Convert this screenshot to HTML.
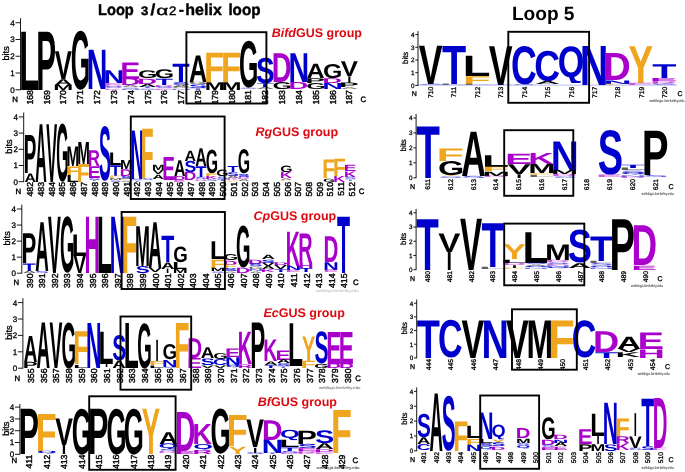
<!DOCTYPE html>
<html><head><meta charset="utf-8"><title>Loop sequence logos</title>
<style>
html,body{margin:0;padding:0;background:#fff}
svg{display:block;filter:blur(0.35px)}
text{font-family:"Liberation Sans",Arial,Helvetica,sans-serif}
text{font-weight:bold;font-size:100px;text-rendering:geometricPrecision}
.k{fill:#000}.b{fill:#0000cc}.p{fill:#aa00cc}.o{fill:#f0a51e}
.ax{stroke:#000;stroke-width:0.9;fill:none}
text.yt,text.yts{font-size:8px;text-anchor:end;font-weight:normal;stroke:#000;stroke-width:.3px}
text.yts{font-size:6.3px;stroke-width:.25px}
text.bits,text.bitss{font-size:9.2px;text-anchor:middle;font-weight:normal;stroke:#000;stroke-width:.3px}
text.bitss{font-size:7.9px;stroke-width:.25px}
text.xt,text.xts{font-size:8.7px;text-anchor:end;font-weight:normal;stroke:#000;stroke-width:.4px}
text.xts{font-size:6.75px;stroke-width:.3px}
text.nc,text.ncs{font-size:7.8px;text-anchor:middle;font-weight:normal;stroke:#000;stroke-width:.4px}
text.ncs{font-size:7px;stroke-width:.3px}
text.wl{font-size:4px;text-anchor:start;font-weight:normal;fill:#111}
text.lab{font-size:12.5px;fill:#dc0a10}
text.t1{font-size:15.8px;stroke:#000;stroke-width:.4px}
text.t2{font-size:19.1px}
.box{fill:none;stroke:#000;stroke-width:1.9}
</style></head><body>
<svg width="685" height="472" viewBox="0 0 685 472">
<rect width="685" height="472" fill="#fff"/>
<defs><clipPath id="q0"><rect x="225.54" y="363.92" width="14.64" height="3.62"/></clipPath><clipPath id="q1"><rect x="36.97" y="450.11" width="19.37" height="3.71"/></clipPath><clipPath id="q2"><rect x="158.56" y="442.56" width="19.37" height="6.66"/></clipPath><clipPath id="q3"><rect x="193.30" y="442.56" width="19.37" height="7.02"/></clipPath><clipPath id="q4"><rect x="280.15" y="429.23" width="19.37" height="10.91"/></clipPath><clipPath id="q5"><rect x="558.16" y="45.02" width="25.36" height="37.89"/></clipPath><clipPath id="q6"><rect x="620.62" y="171.57" width="24.78" height="3.24"/></clipPath><clipPath id="q7"><rect x="524.30" y="264.86" width="23.72" height="2.42"/></clipPath><clipPath id="q8"><rect x="546.02" y="266.14" width="23.72" height="2.42"/></clipPath><clipPath id="q9"><rect x="589.46" y="264.43" width="23.72" height="2.71"/></clipPath><clipPath id="q10"><rect x="478.75" y="445.35" width="14.45" height="4.27"/></clipPath><clipPath id="q11"><rect x="491.20" y="423.37" width="14.45" height="16.00"/></clipPath><clipPath id="q12"><rect x="516.10" y="444.16" width="14.45" height="4.42"/></clipPath></defs>
<text class="t1" x="98" y="15.4" textLength="35.8" lengthAdjust="spacingAndGlyphs">Loop</text>
<text class="t1" x="141.1" y="15.4" textLength="7.3" lengthAdjust="spacingAndGlyphs" style="font-size:12.4px">3</text>
<text class="t1" x="150.4" y="15.4" textLength="4.8" lengthAdjust="spacingAndGlyphs">/</text>
<text class="t1" x="156.2" y="15.4" textLength="12" lengthAdjust="spacingAndGlyphs" style="font-size:13.5px;font-weight:normal">α</text>
<text class="t1" x="168.9" y="15.4" textLength="7.4" lengthAdjust="spacingAndGlyphs" style="font-size:12.4px;font-weight:normal">2</text>
<text class="t1" x="178.8" y="15.4" textLength="5.2" lengthAdjust="spacingAndGlyphs">-</text>
<text class="t1" x="185.3" y="15.4" textLength="36.5" lengthAdjust="spacingAndGlyphs">helix</text>
<text class="t1" x="228.4" y="15.4" textLength="32.1" lengthAdjust="spacingAndGlyphs">loop</text>
<text class="t2" x="511.9" y="20">Loop 5</text>
<text class="k" transform="matrix(0.3278 0 0 0.8483 19.11 89.80)">L</text>
<text class="k" transform="matrix(0.2972 0 0 0.8483 36.13 89.80)">P</text>
<text class="k" transform="matrix(0.2575 0 0 0.4046 54.76 78.73)">V</text>
<text class="k" transform="matrix(0.2507 0 0 0.0853 54.32 84.60)">A</text>
<text class="k" transform="matrix(0.2406 0 0 0.0756 53.33 89.80)">M</text>
<text class="k" transform="matrix(0.2493 0 0 0.8361 70.74 88.98)">G</text>
<text class="b" transform="matrix(0.2861 0 0 0.5704 86.67 89.30)">N</text>
<text class="b" transform="matrix(0.2861 0 0 0.1853 103.49 83.26)">N</text>
<text class="p" opacity="0.60" transform="matrix(0.2998 0 0 0.0293 103.39 85.27)">E</text>
<text class="p" opacity="0.58" transform="matrix(0.2743 0 0 0.0244 103.57 86.95)">D</text>
<text class="b" opacity="0.57" transform="matrix(0.2807 0 0 0.0213 104.59 88.44)">S</text>
<text class="p" opacity="0.55" transform="matrix(0.2604 0 0 0.0195 103.66 89.80)">K</text>
<text class="p" transform="matrix(0.2998 0 0 0.2389 120.21 78.56)">E</text>
<text class="p" transform="matrix(0.2743 0 0 0.0999 120.39 85.44)">D</text>
<text class="k" opacity="0.60" transform="matrix(0.2507 0 0 0.0293 121.60 87.45)">A</text>
<text class="b" opacity="0.55" transform="matrix(0.2807 0 0 0.0189 121.41 88.78)">S</text>
<text class="b" opacity="0.53" transform="matrix(0.2861 0 0 0.0146 120.31 89.80)">N</text>
<text class="k" transform="matrix(0.2493 0 0 0.1113 138.02 78.46)">G</text>
<text class="p" transform="matrix(0.2743 0 0 0.0780 137.21 83.93)">D</text>
<text class="k" transform="matrix(0.2507 0 0 0.0439 138.42 86.95)">A</text>
<text class="b" opacity="0.57" transform="matrix(0.2856 0 0 0.0219 138.72 88.46)">T</text>
<text class="b" opacity="0.55" transform="matrix(0.2807 0 0 0.0189 138.23 89.78)">S</text>
<text class="k" transform="matrix(0.2493 0 0 0.1255 154.84 78.44)">G</text>
<text class="b" transform="matrix(0.2856 0 0 0.0902 155.54 84.77)">T</text>
<text class="p" opacity="0.60" transform="matrix(0.2743 0 0 0.0293 154.03 86.78)">D</text>
<text class="b" opacity="0.58" transform="matrix(0.2807 0 0 0.0237 155.05 88.44)">S</text>
<text class="p" opacity="0.55" transform="matrix(0.2998 0 0 0.0195 153.85 89.80)">E</text>
<text class="b" transform="matrix(0.2856 0 0 0.2633 172.36 82.09)">T</text>
<text class="b" transform="matrix(0.2807 0 0 0.0379 171.87 84.73)">S</text>
<text class="k" opacity="0.62" transform="matrix(0.2507 0 0 0.0317 172.06 86.95)">A</text>
<text class="k" opacity="0.57" transform="matrix(0.2493 0 0 0.0213 171.66 88.44)">G</text>
<text class="b" opacity="0.55" transform="matrix(0.2861 0 0 0.0195 170.77 89.80)">N</text>
<text class="k" transform="matrix(0.2507 0 0 0.3851 188.88 82.09)">A</text>
<text class="k" opacity="0.63" transform="matrix(0.2493 0 0 0.0332 188.48 84.40)">G</text>
<text class="b" transform="matrix(0.2807 0 0 0.0521 188.69 88.07)">S</text>
<text class="b" opacity="0.58" transform="matrix(0.2856 0 0 0.0244 189.18 89.80)">T</text>
<text class="o" transform="matrix(0.3315 0 0 0.4266 204.10 82.09)">F</text>
<text class="k" transform="matrix(0.2406 0 0 0.1121 204.71 89.80)">M</text>
<text class="o" transform="matrix(0.3315 0 0 0.4266 220.92 82.09)">F</text>
<text class="k" transform="matrix(0.2406 0 0 0.1121 221.53 89.80)">M</text>
<text class="k" transform="matrix(0.2493 0 0 0.6632 238.94 87.14)">G</text>
<text class="b" opacity="0.55" transform="matrix(0.2807 0 0 0.0189 239.15 89.11)">S</text>
<text class="b" transform="matrix(0.2807 0 0 0.3624 255.97 82.74)">S</text>
<text class="b" transform="matrix(0.2856 0 0 0.0561 256.46 86.95)">T</text>
<text class="k" opacity="0.60" transform="matrix(0.2507 0 0 0.0293 256.16 88.96)">A</text>
<text class="p" transform="matrix(0.2743 0 0 0.4193 271.77 82.09)">D</text>
<text class="k" transform="matrix(0.2493 0 0 0.0995 272.58 89.03)">G</text>
<text class="b" transform="matrix(0.2861 0 0 0.4193 288.51 82.09)">N</text>
<text class="p" transform="matrix(0.2743 0 0 0.1024 288.59 89.13)">D</text>
<text class="k" transform="matrix(0.2507 0 0 0.2072 306.62 78.23)">A</text>
<text class="k" transform="matrix(0.2972 0 0 0.0707 305.25 83.09)">P</text>
<text class="k" transform="matrix(0.2493 0 0 0.0853 306.22 89.05)">G</text>
<text class="k" transform="matrix(0.2493 0 0 0.2013 323.04 78.03)">G</text>
<text class="p" transform="matrix(0.2743 0 0 0.0707 322.23 83.09)">D</text>
<text class="b" transform="matrix(0.2861 0 0 0.0878 322.15 89.13)">N</text>
<text class="k" transform="matrix(0.2575 0 0 0.2145 340.70 76.05)">V</text>
<text class="k" transform="matrix(0.1518 0 0 0.0975 347.18 82.76)">I</text>
<text class="k" transform="matrix(0.2972 0 0 0.0658 338.89 87.28)">P</text>
<text class="k" opacity="0.58" transform="matrix(0.2507 0 0 0.0244 340.26 88.96)">A</text>
<path class="ax" d="M20.50 18.19V90.20"/>
<text class="yt" x="14.70" y="92.70">0</text>
<text class="yt" x="14.70" y="75.93">1</text>
<text class="yt" x="14.70" y="59.16">2</text>
<text class="yt" x="14.70" y="42.39">3</text>
<text class="yt" x="14.70" y="25.62">4</text>
<path class="ax" d="M15.50 89.80H20.50M15.50 73.03H20.50M15.50 56.26H20.50M15.50 39.49H20.50M15.50 22.72H20.50"/>
<text class="bits" transform="translate(9.10 53.41) rotate(-90)">bits</text>
<text class="xt" transform="translate(32.76 90.10) rotate(-90)">168</text>
<text class="xt" transform="translate(49.58 90.10) rotate(-90)">169</text>
<text class="xt" transform="translate(66.40 90.10) rotate(-90)">170</text>
<text class="xt" transform="translate(83.22 90.10) rotate(-90)">171</text>
<text class="xt" transform="translate(100.04 90.10) rotate(-90)">172</text>
<text class="xt" transform="translate(116.86 90.10) rotate(-90)">173</text>
<text class="xt" transform="translate(133.68 90.10) rotate(-90)">174</text>
<text class="xt" transform="translate(150.50 90.10) rotate(-90)">175</text>
<text class="xt" transform="translate(167.32 90.10) rotate(-90)">176</text>
<text class="xt" transform="translate(184.14 90.10) rotate(-90)">177</text>
<text class="xt" transform="translate(200.96 90.10) rotate(-90)">178</text>
<text class="xt" transform="translate(217.78 90.10) rotate(-90)">179</text>
<text class="xt" transform="translate(234.60 90.10) rotate(-90)">180</text>
<text class="xt" transform="translate(251.42 90.10) rotate(-90)">181</text>
<text class="xt" transform="translate(268.24 90.10) rotate(-90)">182</text>
<text class="xt" transform="translate(285.06 90.10) rotate(-90)">183</text>
<text class="xt" transform="translate(301.88 90.10) rotate(-90)">184</text>
<text class="xt" transform="translate(318.70 90.10) rotate(-90)">185</text>
<text class="xt" transform="translate(335.52 90.10) rotate(-90)">186</text>
<text class="xt" transform="translate(352.34 90.10) rotate(-90)">187</text>
<text class="nc" x="15.00" y="102.40">N</text>
<text class="nc" x="363.20" y="102.40">C</text>
<rect class="box" x="186.40" y="32.20" width="80.00" height="71.30"/>
<text class="lab" x="271.70" y="36.80"><tspan font-style="italic">Bifd</tspan>GUS group</text>
<text class="k" transform="matrix(0.1885 0 0 0.5534 23.64 173.28)">P</text>
<text class="k" transform="matrix(0.1590 0 0 0.1224 24.50 181.70)">A</text>
<text class="k" transform="matrix(0.1590 0 0 0.8406 35.17 181.70)">A</text>
<text class="k" transform="matrix(0.1633 0 0 0.8406 46.13 181.70)">V</text>
<text class="k" transform="matrix(0.1581 0 0 0.8237 56.26 180.90)">G</text>
<text class="k" transform="matrix(0.1526 0 0 0.2849 66.56 166.15)">M</text>
<text class="o" transform="matrix(0.2103 0 0 0.1224 66.17 174.57)">F</text>
<text class="k" transform="matrix(0.2079 0 0 0.1036 66.19 181.70)">L</text>
<text class="k" transform="matrix(0.1526 0 0 0.3179 77.23 163.72)">M</text>
<text class="o" transform="matrix(0.2103 0 0 0.2614 76.84 181.70)">F</text>
<text class="p" transform="matrix(0.1681 0 0 0.2284 87.80 166.15)">R</text>
<text class="p" transform="matrix(0.1902 0 0 0.1719 87.65 177.97)">E</text>
<text class="b" opacity="0.59" transform="matrix(0.1781 0 0 0.0252 88.41 179.73)">S</text>
<text class="b" opacity="0.55" transform="matrix(0.1812 0 0 0.0188 88.72 181.05)">T</text>
<text class="b" transform="matrix(0.1781 0 0 0.7734 99.08 179.65)">S</text>
<text class="k" transform="matrix(0.2079 0 0 0.1837 108.87 165.01)">L</text>
<text class="b" transform="matrix(0.1812 0 0 0.1554 110.06 175.71)">T</text>
<text class="o" opacity="0.64" transform="matrix(0.2103 0 0 0.0353 108.85 178.14)">F</text>
<text class="k" opacity="0.60" transform="matrix(0.1526 0 0 0.0283 109.24 180.08)">M</text>
<text class="b" opacity="0.57" transform="matrix(0.1781 0 0 0.0229 109.75 181.68)">S</text>
<text class="k" transform="matrix(0.1526 0 0 0.1295 119.91 169.39)">M</text>
<text class="p" transform="matrix(0.1740 0 0 0.0965 119.77 176.03)">D</text>
<text class="b" transform="matrix(0.1781 0 0 0.0412 120.42 178.91)">S</text>
<text class="o" opacity="0.56" transform="matrix(0.2103 0 0 0.0212 119.52 180.40)">F</text>
<text class="k" opacity="0.55" transform="matrix(0.1590 0 0 0.0188 120.53 181.70)">A</text>
<text class="b" transform="matrix(0.1815 0 0 0.7041 130.39 178.95)">N</text>
<text class="b" opacity="0.56" transform="matrix(0.1781 0 0 0.0206 131.09 180.38)">S</text>
<text class="b" opacity="0.55" transform="matrix(0.1812 0 0 0.0188 131.40 181.70)">T</text>
<text class="o" transform="matrix(0.2103 0 0 0.7158 140.86 178.30)">F</text>
<text class="b" opacity="0.59" transform="matrix(0.1781 0 0 0.0252 141.76 180.06)">S</text>
<text class="k" transform="matrix(0.1526 0 0 0.0777 151.92 170.36)">M</text>
<text class="k" transform="matrix(0.1633 0 0 0.0589 152.83 174.41)">V</text>
<text class="k" transform="matrix(0.1590 0 0 0.0636 152.54 178.78)">A</text>
<text class="p" transform="matrix(0.1902 0 0 0.3344 162.34 180.08)">E</text>
<text class="k" transform="matrix(0.1590 0 0 0.2308 173.88 175.71)">A</text>
<text class="p" transform="matrix(0.1740 0 0 0.0589 173.12 179.76)">D</text>
<text class="p" opacity="0.60" transform="matrix(0.1902 0 0 0.0283 173.01 181.70)">E</text>
<text class="k" transform="matrix(0.1590 0 0 0.1507 184.55 160.80)">A</text>
<text class="b" transform="matrix(0.1781 0 0 0.1602 184.44 171.99)">S</text>
<text class="p" transform="matrix(0.1740 0 0 0.1201 183.79 180.40)">D</text>
<text class="k" transform="matrix(0.1590 0 0 0.2567 195.22 166.15)">A</text>
<text class="b" transform="matrix(0.1812 0 0 0.1578 195.42 177.00)">T</text>
<text class="b" opacity="0.64" transform="matrix(0.1781 0 0 0.0343 195.11 179.40)">S</text>
<text class="p" opacity="0.57" transform="matrix(0.1740 0 0 0.0235 194.46 181.05)">D</text>
<text class="k" transform="matrix(0.1581 0 0 0.3364 205.64 172.95)">G</text>
<text class="o" transform="matrix(0.2103 0 0 0.0400 204.88 176.03)">F</text>
<text class="p" transform="matrix(0.1652 0 0 0.0447 205.19 179.11)">K</text>
<text class="b" opacity="0.60" transform="matrix(0.1781 0 0 0.0275 205.78 181.03)">S</text>
<text class="k" transform="matrix(0.1581 0 0 0.0915 216.31 176.26)">G</text>
<text class="b" opacity="0.65" transform="matrix(0.1781 0 0 0.0366 216.45 178.91)">S</text>
<text class="b" opacity="0.60" transform="matrix(0.1812 0 0 0.0283 216.76 180.89)">T</text>
<text class="b" transform="matrix(0.1812 0 0 0.0871 227.43 172.14)">T</text>
<text class="b" transform="matrix(0.1781 0 0 0.0549 227.12 175.98)">S</text>
<text class="k" opacity="0.64" transform="matrix(0.1590 0 0 0.0353 227.23 178.46)">A</text>
<text class="p" opacity="0.60" transform="matrix(0.1652 0 0 0.0283 226.53 180.40)">K</text>
<text class="o" opacity="0.55" transform="matrix(0.2103 0 0 0.0188 226.22 181.70)">F</text>
<text class="k" transform="matrix(0.1581 0 0 0.3432 237.65 173.43)">G</text>
<text class="b" transform="matrix(0.1781 0 0 0.0435 237.79 176.80)">S</text>
<text class="p" opacity="0.61" transform="matrix(0.1740 0 0 0.0306 237.14 178.95)">D</text>
<text class="k" opacity="0.60" transform="matrix(0.1590 0 0 0.0283 237.90 180.89)">A</text>
<text class="k" transform="matrix(0.1581 0 0 0.0915 280.33 172.05)">G</text>
<text class="p" transform="matrix(0.1652 0 0 0.0895 279.88 178.30)">K</text>
<text class="k" opacity="0.59" transform="matrix(0.1590 0 0 0.0259 280.58 180.08)">A</text>
<text class="o" opacity="0.54" transform="matrix(0.2103 0 0 0.0165 279.57 181.21)">F</text>
<text class="o" transform="matrix(0.2103 0 0 0.2684 322.25 178.30)">F</text>
<text class="k" transform="matrix(0.1581 0 0 0.0481 323.01 181.65)">G</text>
<text class="o" transform="matrix(0.2103 0 0 0.2496 332.92 175.71)">F</text>
<text class="p" transform="matrix(0.1652 0 0 0.0871 333.23 181.70)">K</text>
<text class="p" transform="matrix(0.1902 0 0 0.0918 343.73 171.33)">E</text>
<text class="p" transform="matrix(0.1652 0 0 0.0801 343.90 176.84)">K</text>
<text class="b" opacity="0.65" transform="matrix(0.1781 0 0 0.0366 344.49 179.40)">S</text>
<text class="b" opacity="0.57" transform="matrix(0.1812 0 0 0.0235 344.80 181.05)">T</text>
<path class="ax" d="M23.70 112.53V182.10"/>
<text class="yt" x="17.90" y="184.60">0</text>
<text class="yt" x="17.90" y="168.40">1</text>
<text class="yt" x="17.90" y="152.20">2</text>
<text class="yt" x="17.90" y="136.00">3</text>
<text class="yt" x="17.90" y="119.80">4</text>
<path class="ax" d="M18.70 181.70H23.70M18.70 165.50H23.70M18.70 149.30H23.70M18.70 133.10H23.70M18.70 116.90H23.70"/>
<text class="bits" transform="translate(12.30 146.55) rotate(-90)">bits</text>
<text class="xt" transform="translate(33.25 182.00) rotate(-90)">482</text>
<text class="xt" transform="translate(43.97 182.00) rotate(-90)">483</text>
<text class="xt" transform="translate(54.69 182.00) rotate(-90)">484</text>
<text class="xt" transform="translate(65.41 182.00) rotate(-90)">485</text>
<text class="xt" transform="translate(76.13 182.00) rotate(-90)">486</text>
<text class="xt" transform="translate(86.85 182.00) rotate(-90)">487</text>
<text class="xt" transform="translate(97.57 182.00) rotate(-90)">488</text>
<text class="xt" transform="translate(108.29 182.00) rotate(-90)">489</text>
<text class="xt" transform="translate(119.01 182.00) rotate(-90)">490</text>
<text class="xt" transform="translate(129.73 182.00) rotate(-90)">491</text>
<text class="xt" transform="translate(140.45 182.00) rotate(-90)">492</text>
<text class="xt" transform="translate(151.17 182.00) rotate(-90)">493</text>
<text class="xt" transform="translate(161.89 182.00) rotate(-90)">494</text>
<text class="xt" transform="translate(172.61 182.00) rotate(-90)">495</text>
<text class="xt" transform="translate(183.33 182.00) rotate(-90)">496</text>
<text class="xt" transform="translate(194.05 182.00) rotate(-90)">497</text>
<text class="xt" transform="translate(204.77 182.00) rotate(-90)">498</text>
<text class="xt" transform="translate(215.49 182.00) rotate(-90)">499</text>
<text class="xt" transform="translate(226.21 182.00) rotate(-90)">500</text>
<text class="xt" transform="translate(236.93 182.00) rotate(-90)">501</text>
<text class="xt" transform="translate(247.65 182.00) rotate(-90)">502</text>
<text class="xt" transform="translate(258.37 182.00) rotate(-90)">503</text>
<text class="xt" transform="translate(269.09 182.00) rotate(-90)">504</text>
<text class="xt" transform="translate(279.81 182.00) rotate(-90)">505</text>
<text class="xt" transform="translate(290.53 182.00) rotate(-90)">506</text>
<text class="xt" transform="translate(301.25 182.00) rotate(-90)">507</text>
<text class="xt" transform="translate(311.97 182.00) rotate(-90)">508</text>
<text class="xt" transform="translate(322.69 182.00) rotate(-90)">509</text>
<text class="xt" transform="translate(333.41 182.00) rotate(-90)">510</text>
<text class="xt" transform="translate(344.13 182.00) rotate(-90)">511</text>
<text class="xt" transform="translate(354.85 182.00) rotate(-90)">512</text>
<text class="nc" x="18.20" y="193.50">N</text>
<text class="nc" x="361.50" y="193.50">C</text>
<rect class="box" x="130.80" y="116.50" width="93.80" height="82.50"/>
<text class="lab" x="255.50" y="136.30"><tspan font-style="italic">Rg</tspan>GUS group</text>
<text class="k" transform="matrix(0.2221 0 0 0.4339 21.61 263.25)">P</text>
<text class="b" transform="matrix(0.2135 0 0 0.1096 22.86 270.79)">T</text>
<text class="k" opacity="0.64" transform="matrix(0.1874 0 0 0.0350 22.63 273.20)">A</text>
<text class="k" transform="matrix(0.1874 0 0 0.7092 35.20 270.79)">A</text>
<text class="b" opacity="0.61" transform="matrix(0.2098 0 0 0.0295 35.07 272.85)">S</text>
<text class="k" transform="matrix(0.1924 0 0 0.8165 48.11 273.20)">V</text>
<text class="k" transform="matrix(0.1863 0 0 0.7980 60.05 272.42)">G</text>
<text class="k" transform="matrix(0.2449 0 0 0.3149 71.74 255.54)">L</text>
<text class="k" transform="matrix(0.1924 0 0 0.2566 73.25 273.20)">V</text>
<text class="p" transform="matrix(0.2138 0 0 0.8165 84.52 273.20)">H</text>
<text class="k" transform="matrix(0.2449 0 0 0.8165 96.88 273.20)">L</text>
<text class="b" transform="matrix(0.2138 0 0 0.8165 109.66 273.20)">N</text>
<text class="o" transform="matrix(0.2478 0 0 0.8165 122.00 273.20)">F</text>
<text class="k" transform="matrix(0.1798 0 0 0.5786 135.03 265.98)">M</text>
<text class="b" transform="matrix(0.2098 0 0 0.1020 135.63 273.10)">S</text>
<text class="k" transform="matrix(0.1874 0 0 0.6672 148.33 267.90)">A</text>
<text class="k" transform="matrix(0.1924 0 0 0.0583 148.67 271.92)">V</text>
<text class="b" transform="matrix(0.2135 0 0 0.3826 161.13 262.29)">T</text>
<text class="k" transform="matrix(0.1874 0 0 0.0956 160.90 268.87)">A</text>
<text class="k" transform="matrix(0.1134 0 0 0.0630 166.08 273.20)">I</text>
<text class="k" transform="matrix(0.1863 0 0 0.2222 173.18 261.59)">G</text>
<text class="k" transform="matrix(0.2449 0 0 0.1026 172.30 268.87)">L</text>
<text class="k" transform="matrix(0.1798 0 0 0.0630 172.74 273.20)">M</text>
<text class="k" transform="matrix(0.2449 0 0 0.2566 210.01 259.40)">L</text>
<text class="o" transform="matrix(0.2478 0 0 0.1190 209.99 267.58)">F</text>
<text class="k" transform="matrix(0.1798 0 0 0.0490 210.45 270.95)">M</text>
<text class="b" opacity="0.57" transform="matrix(0.2098 0 0 0.0227 211.05 272.54)">S</text>
<text class="k" transform="matrix(0.1863 0 0 0.0861 223.46 260.28)">G</text>
<text class="p" transform="matrix(0.2050 0 0 0.0607 222.85 264.53)">D</text>
<text class="o" transform="matrix(0.2478 0 0 0.0513 222.56 268.06)">F</text>
<text class="b" transform="matrix(0.2098 0 0 0.0408 223.62 270.91)">S</text>
<text class="k" opacity="0.57" transform="matrix(0.1874 0 0 0.0233 223.75 272.56)">A</text>
<text class="k" transform="matrix(0.1863 0 0 0.5939 236.03 267.32)">G</text>
<text class="p" transform="matrix(0.2050 0 0 0.0770 235.42 273.20)">D</text>
<text class="p" transform="matrix(0.2050 0 0 0.0630 247.99 263.73)">D</text>
<text class="b" transform="matrix(0.2098 0 0 0.0385 248.76 266.42)">S</text>
<text class="k" opacity="0.65" transform="matrix(0.1863 0 0 0.0363 248.60 268.99)">G</text>
<text class="b" opacity="0.62" transform="matrix(0.2138 0 0 0.0327 247.93 271.27)">N</text>
<text class="k" opacity="0.56" transform="matrix(0.1874 0 0 0.0210 248.89 272.72)">A</text>
<text class="k" transform="matrix(0.1874 0 0 0.0630 261.46 259.40)">A</text>
<text class="b" transform="matrix(0.2098 0 0 0.0476 261.33 262.72)">S</text>
<text class="k" transform="matrix(0.1924 0 0 0.0467 261.80 265.98)">V</text>
<text class="k" transform="matrix(0.1874 0 0 0.0467 261.46 269.19)">A</text>
<text class="p" transform="matrix(0.1946 0 0 0.0397 260.63 271.92)">K</text>
<text class="p" transform="matrix(0.2050 0 0 0.0420 273.13 265.18)">D</text>
<text class="k" transform="matrix(0.1924 0 0 0.0583 274.37 269.19)">V</text>
<text class="b" transform="matrix(0.2135 0 0 0.0397 274.26 271.92)">T</text>
<text class="p" transform="matrix(0.1946 0 0 0.4969 285.77 265.66)">K</text>
<text class="b" transform="matrix(0.2138 0 0 0.0607 285.64 269.83)">N</text>
<text class="p" opacity="0.65" transform="matrix(0.2240 0 0 0.0373 285.57 272.40)">E</text>
<text class="p" transform="matrix(0.1980 0 0 0.4293 298.32 263.25)">R</text>
<text class="p" transform="matrix(0.2138 0 0 0.0747 298.21 268.38)">H</text>
<text class="b" transform="matrix(0.2135 0 0 0.0583 299.40 272.40)">T</text>
<text class="p" transform="matrix(0.2050 0 0 0.3733 323.41 262.29)">D</text>
<text class="b" transform="matrix(0.2138 0 0 0.1120 323.35 269.99)">N</text>
<text class="p" opacity="0.64" transform="matrix(0.2240 0 0 0.0350 323.28 272.40)">E</text>
<text class="b" transform="matrix(0.2135 0 0 0.8165 337.11 273.20)">T</text>
<path class="ax" d="M21.80 204.67V273.60"/>
<text class="yt" x="16.00" y="276.10">0</text>
<text class="yt" x="16.00" y="260.05">1</text>
<text class="yt" x="16.00" y="244.00">2</text>
<text class="yt" x="16.00" y="227.95">3</text>
<text class="yt" x="16.00" y="211.90">4</text>
<path class="ax" d="M16.80 273.20H21.80M16.80 257.15H21.80M16.80 241.10H21.80M16.80 225.05H21.80M16.80 209.00H21.80"/>
<text class="bits" transform="translate(10.40 238.37) rotate(-90)">bits</text>
<text class="xt" transform="translate(32.75 273.50) rotate(-90)">390</text>
<text class="xt" transform="translate(45.33 273.50) rotate(-90)">391</text>
<text class="xt" transform="translate(57.91 273.50) rotate(-90)">392</text>
<text class="xt" transform="translate(70.49 273.50) rotate(-90)">393</text>
<text class="xt" transform="translate(83.07 273.50) rotate(-90)">394</text>
<text class="xt" transform="translate(95.65 273.50) rotate(-90)">395</text>
<text class="xt" transform="translate(108.23 273.50) rotate(-90)">396</text>
<text class="xt" transform="translate(120.81 273.50) rotate(-90)">397</text>
<text class="xt" transform="translate(133.39 273.50) rotate(-90)">398</text>
<text class="xt" transform="translate(145.97 273.50) rotate(-90)">399</text>
<text class="xt" transform="translate(158.55 273.50) rotate(-90)">400</text>
<text class="xt" transform="translate(171.13 273.50) rotate(-90)">401</text>
<text class="xt" transform="translate(183.71 273.50) rotate(-90)">402</text>
<text class="xt" transform="translate(196.29 273.50) rotate(-90)">403</text>
<text class="xt" transform="translate(208.87 273.50) rotate(-90)">404</text>
<text class="xt" transform="translate(221.45 273.50) rotate(-90)">405</text>
<text class="xt" transform="translate(234.03 273.50) rotate(-90)">406</text>
<text class="xt" transform="translate(246.61 273.50) rotate(-90)">407</text>
<text class="xt" transform="translate(259.19 273.50) rotate(-90)">408</text>
<text class="xt" transform="translate(271.77 273.50) rotate(-90)">409</text>
<text class="xt" transform="translate(284.35 273.50) rotate(-90)">410</text>
<text class="xt" transform="translate(296.93 273.50) rotate(-90)">411</text>
<text class="xt" transform="translate(309.51 273.50) rotate(-90)">412</text>
<text class="xt" transform="translate(322.09 273.50) rotate(-90)">413</text>
<text class="xt" transform="translate(334.67 273.50) rotate(-90)">414</text>
<text class="xt" transform="translate(347.25 273.50) rotate(-90)">415</text>
<text class="nc" x="16.30" y="285.40">N</text>
<text class="nc" x="355.90" y="285.40">C</text>
<text class="wl" x="315.80" y="291.70" textLength="43.0" lengthAdjust="spacingAndGlyphs" opacity="0.35">weblogo.berkeley.edu</text>
<rect class="box" x="121.60" y="212.00" width="103.30" height="77.00"/>
<text class="lab" x="253.60" y="220.20"><tspan font-style="italic">Cp</tspan>GUS group</text>
<text class="k" transform="matrix(0.1884 0 0 0.3766 23.83 361.97)">A</text>
<text class="k" transform="matrix(0.2234 0 0 0.0906 22.81 368.20)">P</text>
<text class="k" transform="matrix(0.1884 0 0 0.6603 36.47 368.20)">A</text>
<text class="k" transform="matrix(0.1935 0 0 0.6603 49.45 368.20)">V</text>
<text class="k" transform="matrix(0.1873 0 0 0.6509 61.45 367.56)">G</text>
<text class="o" transform="matrix(0.2491 0 0 0.4768 73.19 364.43)">F</text>
<text class="k" transform="matrix(0.2463 0 0 0.0453 73.21 367.54)">L</text>
<text class="b" transform="matrix(0.2150 0 0 0.6555 86.06 368.20)">N</text>
<text class="k" transform="matrix(0.2463 0 0 0.4696 98.49 363.94)">L</text>
<text class="k" transform="matrix(0.1141 0 0 0.0429 104.88 366.89)">I</text>
<text class="b" transform="matrix(0.2110 0 0 0.3567 112.17 360.31)">S</text>
<text class="k" transform="matrix(0.1884 0 0 0.1097 112.31 368.20)">A</text>
<text class="k" transform="matrix(0.2463 0 0 0.6555 123.77 368.20)">L</text>
<text class="k" transform="matrix(0.1873 0 0 0.6416 137.29 367.57)">G</text>
<text class="k" transform="matrix(0.1141 0 0 0.3075 155.44 360.98)">I</text>
<text class="o" transform="matrix(0.2491 0 0 0.0572 149.03 364.92)">F</text>
<text class="k" transform="matrix(0.2463 0 0 0.0381 149.05 367.54)">L</text>
<text class="k" transform="matrix(0.1873 0 0 0.2154 162.57 359.30)">G</text>
<text class="b" transform="matrix(0.2150 0 0 0.1025 161.90 366.56)">N</text>
<text class="b" opacity="0.54" transform="matrix(0.2110 0 0 0.0162 162.73 367.69)">S</text>
<text class="o" transform="matrix(0.2491 0 0 0.6555 174.31 368.20)">F</text>
<text class="p" transform="matrix(0.2061 0 0 0.2884 187.24 358.20)">D</text>
<text class="p" transform="matrix(0.2253 0 0 0.1454 187.11 368.20)">E</text>
<text class="k" transform="matrix(0.1884 0 0 0.1573 200.79 358.20)">A</text>
<text class="b" transform="matrix(0.2110 0 0 0.0950 200.65 364.83)">S</text>
<text class="k" transform="matrix(0.1935 0 0 0.0381 201.13 367.54)">V</text>
<text class="k" transform="matrix(0.1873 0 0 0.0880 213.13 358.60)">G</text>
<text class="b" transform="matrix(0.1933 0 0 0.0880 213.11 364.83)">C</text>
<text class="k" transform="matrix(0.1935 0 0 0.0381 213.77 367.54)">V</text>
<text class="p" transform="matrix(0.2253 0 0 0.1240 225.03 357.21)">E</text>
<text class="b" transform="matrix(0.2150 0 0 0.1120 225.10 364.92)">N</text>
<g clip-path="url(#q0)"><text class="b" transform="matrix(0.1848 0 0 0.0313 225.78 367.11)">Q</text></g>
<text class="p" transform="matrix(0.1957 0 0 0.4696 237.87 363.94)">K</text>
<text class="p" transform="matrix(0.1991 0 0 0.0524 237.85 367.54)">R</text>
<text class="k" transform="matrix(0.2234 0 0 0.6603 250.33 368.20)">P</text>
<text class="p" transform="matrix(0.1957 0 0 0.3147 263.15 361.48)">K</text>
<text class="k" transform="matrix(0.1884 0 0 0.0501 263.99 364.92)">A</text>
<text class="b" transform="matrix(0.2146 0 0 0.0405 264.22 367.71)">T</text>
<text class="p" transform="matrix(0.2253 0 0 0.1383 275.59 359.51)">E</text>
<text class="k" transform="matrix(0.1884 0 0 0.0548 276.63 363.28)">A</text>
<text class="b" transform="matrix(0.2110 0 0 0.0371 276.49 365.87)">S</text>
<text class="b" opacity="0.59" transform="matrix(0.2146 0 0 0.0262 276.86 367.71)">T</text>
<text class="k" transform="matrix(0.2463 0 0 0.6198 288.09 365.74)">L</text>
<text class="o" transform="matrix(0.1994 0 0 0.3576 302.04 360.98)">Y</text>
<text class="o" transform="matrix(0.2491 0 0 0.1049 300.71 368.20)">F</text>
<text class="b" transform="matrix(0.2110 0 0 0.4563 314.41 363.49)">S</text>
<text class="k" transform="matrix(0.1873 0 0 0.0602 314.25 368.14)">G</text>
<text class="p" transform="matrix(0.2253 0 0 0.4648 326.15 363.61)">E</text>
<text class="p" transform="matrix(0.2061 0 0 0.0667 326.28 368.20)">D</text>
<text class="p" transform="matrix(0.2253 0 0 0.4648 338.79 363.61)">E</text>
<text class="p" transform="matrix(0.2061 0 0 0.0667 338.92 368.20)">D</text>
<path class="ax" d="M22.90 298.17V368.60"/>
<text class="yt" x="17.10" y="371.10">0</text>
<text class="yt" x="17.10" y="354.70">1</text>
<text class="yt" x="17.10" y="338.30">2</text>
<text class="yt" x="17.10" y="321.90">3</text>
<text class="yt" x="17.10" y="305.50">4</text>
<path class="ax" d="M17.90 368.20H22.90M17.90 351.80H22.90M17.90 335.40H22.90M17.90 319.00H22.90M17.90 302.60H22.90"/>
<text class="bits" transform="translate(11.50 332.61) rotate(-90)">bits</text>
<text class="xt" transform="translate(34.05 368.50) rotate(-90)">355</text>
<text class="xt" transform="translate(46.71 368.50) rotate(-90)">356</text>
<text class="xt" transform="translate(59.37 368.50) rotate(-90)">357</text>
<text class="xt" transform="translate(72.03 368.50) rotate(-90)">358</text>
<text class="xt" transform="translate(84.69 368.50) rotate(-90)">359</text>
<text class="xt" transform="translate(97.35 368.50) rotate(-90)">360</text>
<text class="xt" transform="translate(110.01 368.50) rotate(-90)">361</text>
<text class="xt" transform="translate(122.67 368.50) rotate(-90)">362</text>
<text class="xt" transform="translate(135.33 368.50) rotate(-90)">363</text>
<text class="xt" transform="translate(147.99 368.50) rotate(-90)">364</text>
<text class="xt" transform="translate(160.65 368.50) rotate(-90)">365</text>
<text class="xt" transform="translate(173.31 368.50) rotate(-90)">366</text>
<text class="xt" transform="translate(185.97 368.50) rotate(-90)">367</text>
<text class="xt" transform="translate(198.63 368.50) rotate(-90)">368</text>
<text class="xt" transform="translate(211.29 368.50) rotate(-90)">369</text>
<text class="xt" transform="translate(223.95 368.50) rotate(-90)">370</text>
<text class="xt" transform="translate(236.61 368.50) rotate(-90)">371</text>
<text class="xt" transform="translate(249.27 368.50) rotate(-90)">372</text>
<text class="xt" transform="translate(261.93 368.50) rotate(-90)">373</text>
<text class="xt" transform="translate(274.59 368.50) rotate(-90)">374</text>
<text class="xt" transform="translate(287.25 368.50) rotate(-90)">375</text>
<text class="xt" transform="translate(299.91 368.50) rotate(-90)">376</text>
<text class="xt" transform="translate(312.57 368.50) rotate(-90)">377</text>
<text class="xt" transform="translate(325.23 368.50) rotate(-90)">378</text>
<text class="xt" transform="translate(337.89 368.50) rotate(-90)">379</text>
<text class="xt" transform="translate(350.55 368.50) rotate(-90)">380</text>
<text class="nc" x="17.40" y="380.80">N</text>
<text class="nc" x="358.00" y="380.80">C</text>
<text class="wl" x="319.00" y="388.70" textLength="41.5" lengthAdjust="spacingAndGlyphs" opacity="0.75">weblogo.berkeley.edu</text>
<rect class="box" x="120.50" y="316.50" width="70.70" height="73.20"/>
<text class="lab" x="263.50" y="316.70"><tspan font-style="italic">Ec</tspan>GUS group</text>
<text class="k" transform="matrix(0.3069 0 0 0.6586 18.55 454.30)">P</text>
<text class="o" transform="matrix(0.3424 0 0 0.5368 35.68 451.11)">F</text>
<g clip-path="url(#q1)"><text class="b" transform="matrix(0.2540 0 0 0.0324 36.93 453.37)">Q</text></g>
<text class="k" transform="matrix(0.2659 0 0 0.3859 55.16 444.51)">V</text>
<text class="k" transform="matrix(0.1568 0 0 0.1424 61.85 454.30)">I</text>
<text class="k" transform="matrix(0.2574 0 0 0.6483 71.65 453.67)">G</text>
<text class="k" transform="matrix(0.3069 0 0 0.6586 88.03 454.30)">P</text>
<text class="k" transform="matrix(0.2574 0 0 0.6483 106.39 453.67)">G</text>
<text class="k" transform="matrix(0.2574 0 0 0.6483 123.76 453.67)">G</text>
<text class="o" transform="matrix(0.2741 0 0 0.6586 141.72 454.30)">Y</text>
<text class="k" transform="matrix(0.2589 0 0 0.1715 158.92 443.56)">A</text>
<g clip-path="url(#q2)"><text class="b" transform="matrix(0.2540 0 0 0.0676 158.52 448.28)">Q</text></g>
<text class="b" opacity="0.61" transform="matrix(0.2899 0 0 0.0300 158.72 451.32)">S</text>
<text class="p" opacity="0.60" transform="matrix(0.2832 0 0 0.0292 157.67 453.36)">D</text>
<text class="p" transform="matrix(0.2832 0 0 0.5677 175.04 450.76)">D</text>
<text class="p" transform="matrix(0.3096 0 0 0.0429 174.86 453.71)">E</text>
<text class="p" transform="matrix(0.2689 0 0 0.2899 192.50 443.56)">K</text>
<g clip-path="url(#q3)"><text class="b" transform="matrix(0.2540 0 0 0.0718 193.26 448.57)">Q</text></g>
<text class="p" transform="matrix(0.2736 0 0 0.0600 192.47 453.71)">R</text>
<text class="k" transform="matrix(0.2574 0 0 0.6383 210.61 452.50)">G</text>
<text class="o" transform="matrix(0.3424 0 0 0.4494 226.75 446.39)">F</text>
<text class="o" transform="matrix(0.2741 0 0 0.1063 228.57 453.71)">Y</text>
<text class="k" transform="matrix(0.2659 0 0 0.3996 246.23 447.34)">V</text>
<text class="k" transform="matrix(0.1568 0 0 0.0755 252.92 452.53)">I</text>
<text class="b" opacity="0.59" transform="matrix(0.2899 0 0 0.0250 245.57 454.28)">S</text>
<text class="p" transform="matrix(0.2832 0 0 0.2881 261.89 439.67)">D</text>
<text class="b" transform="matrix(0.2955 0 0 0.1921 261.80 452.88)">N</text>
<text class="b" opacity="0.56" transform="matrix(0.2950 0 0 0.0206 263.45 454.30)">T</text>
<g clip-path="url(#q4)"><text class="b" transform="matrix(0.2540 0 0 0.1182 280.11 438.48)">Q</text></g>
<text class="k" transform="matrix(0.3385 0 0 0.1046 278.89 447.34)">L</text>
<text class="b" transform="matrix(0.2950 0 0 0.0497 280.82 450.76)">T</text>
<text class="b" opacity="0.61" transform="matrix(0.2899 0 0 0.0300 280.31 452.85)">S</text>
<text class="p" opacity="0.56" transform="matrix(0.3096 0 0 0.0206 279.08 454.30)">E</text>
<text class="k" transform="matrix(0.3069 0 0 0.1938 296.47 443.56)">P</text>
<text class="b" transform="matrix(0.2899 0 0 0.0600 297.68 447.75)">S</text>
<text class="p" transform="matrix(0.3096 0 0 0.0394 296.45 450.52)">E</text>
<text class="p" opacity="0.60" transform="matrix(0.2832 0 0 0.0292 296.63 452.53)">D</text>
<text class="p" opacity="0.59" transform="matrix(0.2689 0 0 0.0257 296.72 454.30)">K</text>
<text class="b" transform="matrix(0.2899 0 0 0.1833 315.05 443.03)">S</text>
<text class="k" transform="matrix(0.2589 0 0 0.0840 315.25 448.99)">A</text>
<text class="p" transform="matrix(0.2832 0 0 0.0394 314.00 451.70)">D</text>
<text class="p" opacity="0.60" transform="matrix(0.3096 0 0 0.0274 313.82 453.59)">E</text>
<text class="o" transform="matrix(0.3424 0 0 0.6260 330.97 453.36)">F</text>
<path class="ax" d="M19.90 403.91V454.70"/>
<text class="yt" x="14.10" y="457.20">0</text>
<text class="yt" x="14.10" y="445.40">1</text>
<text class="yt" x="14.10" y="433.60">2</text>
<text class="yt" x="14.10" y="421.80">3</text>
<text class="yt" x="14.10" y="410.00">4</text>
<path class="ax" d="M14.90 454.30H19.90M14.90 442.50H19.90M14.90 430.70H19.90M14.90 418.90H19.90M14.90 407.10H19.90"/>
<text class="bits" transform="translate(8.50 428.69) rotate(-90)">bits</text>
<text class="xt" transform="translate(32.45 454.60) rotate(-90)">411</text>
<text class="xt" transform="translate(49.82 454.60) rotate(-90)">412</text>
<text class="xt" transform="translate(67.19 454.60) rotate(-90)">413</text>
<text class="xt" transform="translate(84.56 454.60) rotate(-90)">414</text>
<text class="xt" transform="translate(101.93 454.60) rotate(-90)">415</text>
<text class="xt" transform="translate(119.30 454.60) rotate(-90)">416</text>
<text class="xt" transform="translate(136.67 454.60) rotate(-90)">417</text>
<text class="xt" transform="translate(154.04 454.60) rotate(-90)">418</text>
<text class="xt" transform="translate(171.41 454.60) rotate(-90)">419</text>
<text class="xt" transform="translate(188.78 454.60) rotate(-90)">420</text>
<text class="xt" transform="translate(206.15 454.60) rotate(-90)">421</text>
<text class="xt" transform="translate(223.52 454.60) rotate(-90)">422</text>
<text class="xt" transform="translate(240.89 454.60) rotate(-90)">423</text>
<text class="xt" transform="translate(258.26 454.60) rotate(-90)">424</text>
<text class="xt" transform="translate(275.63 454.60) rotate(-90)">425</text>
<text class="xt" transform="translate(293.00 454.60) rotate(-90)">426</text>
<text class="xt" transform="translate(310.37 454.60) rotate(-90)">427</text>
<text class="xt" transform="translate(327.74 454.60) rotate(-90)">428</text>
<text class="xt" transform="translate(345.11 454.60) rotate(-90)">429</text>
<text class="nc" x="14.40" y="463.30">N</text>
<text class="nc" x="355.20" y="463.30">C</text>
<text class="wl" x="316.60" y="469.30" textLength="43.0" lengthAdjust="spacingAndGlyphs" opacity="1.00">weblogo.berkeley.edu</text>
<rect class="box" x="89.20" y="396.30" width="86.40" height="73.50"/>
<text class="lab" x="257.80" y="405.70"><tspan font-style="italic">Bf</tspan>GUS group</text>
<path d="M418.0 85.15H677.0" stroke="#9aa2f5" stroke-width="0.7" fill="none"/>
<text class="k" transform="matrix(0.3576 0 0 0.5547 418.76 84.18)">V</text>
<text class="b" opacity="0.55" transform="matrix(0.3899 0 0 0.0180 417.88 85.43)">S</text>
<text class="b" transform="matrix(0.3967 0 0 0.5510 441.91 83.92)">T</text>
<text class="k" opacity="0.57" transform="matrix(0.4552 0 0 0.0222 439.32 85.45)">L</text>
<text class="k" transform="matrix(0.4552 0 0 0.2940 462.68 76.29)">L</text>
<text class="o" transform="matrix(0.4604 0 0 0.1146 462.64 84.18)">F</text>
<text class="k" opacity="0.55" transform="matrix(0.4552 0 0 0.0185 462.68 85.45)">L</text>
<text class="k" transform="matrix(0.3576 0 0 0.5621 488.84 84.69)">V</text>
<text class="b" opacity="0.51" transform="matrix(0.3967 0 0 0.0111 488.63 85.45)">T</text>
<text class="b" transform="matrix(0.3573 0 0 0.5462 510.97 84.15)">C</text>
<text class="b" opacity="0.51" transform="matrix(0.3899 0 0 0.0108 511.32 85.44)">S</text>
<text class="b" transform="matrix(0.3573 0 0 0.4348 534.33 80.70)">C</text>
<text class="k" transform="matrix(0.3482 0 0 0.0444 534.93 84.18)">A</text>
<g clip-path="url(#q5)"><text class="b" transform="matrix(0.3415 0 0 0.4401 557.76 76.75)">Q</text></g>
<text class="b" transform="matrix(0.3973 0 0 0.5658 579.86 84.94)">N</text>
<text class="p" transform="matrix(0.3809 0 0 0.3938 603.33 80.11)">D</text>
<text class="b" transform="matrix(0.3973 0 0 0.0499 603.22 83.54)">N</text>
<text class="o" opacity="0.56" transform="matrix(0.4604 0 0 0.0203 602.80 84.94)">F</text>
<text class="o" transform="matrix(0.3686 0 0 0.5362 628.61 82.91)">Y</text>
<text class="p" opacity="0.62" transform="matrix(0.4164 0 0 0.0314 626.45 85.07)">E</text>
<text class="b" transform="matrix(0.3967 0 0 0.1997 652.15 77.69)">T</text>
<text class="p" transform="matrix(0.4164 0 0 0.0425 649.81 80.62)">E</text>
<text class="p" opacity="0.61" transform="matrix(0.3809 0 0 0.0296 650.05 82.65)">D</text>
<text class="p" opacity="0.57" transform="matrix(0.3616 0 0 0.0222 650.18 84.18)">K</text>
<text class="b" opacity="0.55" transform="matrix(0.3899 0 0 0.0180 651.48 85.43)">S</text>
<path class="ax" d="M418.00 31.14V85.85"/>
<text class="yts" x="414.50" y="87.75">0</text>
<text class="yts" x="414.50" y="75.03">1</text>
<text class="yts" x="414.50" y="62.31">2</text>
<text class="yts" x="414.50" y="49.59">3</text>
<text class="yts" x="414.50" y="36.87">4</text>
<path class="ax" d="M415.30 85.45H418.00M415.30 72.73H418.00M415.30 60.01H418.00M415.30 47.29H418.00M415.30 34.57H418.00"/>
<text class="bitss" transform="translate(408.20 57.85) rotate(-90)">bits</text>
<text class="xts" transform="translate(432.80 86.65) rotate(-90)">710</text>
<text class="xts" transform="translate(456.25 86.65) rotate(-90)">711</text>
<text class="xts" transform="translate(479.70 86.65) rotate(-90)">712</text>
<text class="xts" transform="translate(503.15 86.65) rotate(-90)">713</text>
<text class="xts" transform="translate(526.60 86.65) rotate(-90)">714</text>
<text class="xts" transform="translate(550.05 86.65) rotate(-90)">715</text>
<text class="xts" transform="translate(573.50 86.65) rotate(-90)">716</text>
<text class="xts" transform="translate(596.95 86.65) rotate(-90)">717</text>
<text class="xts" transform="translate(620.40 86.65) rotate(-90)">718</text>
<text class="xts" transform="translate(643.85 86.65) rotate(-90)">719</text>
<text class="xts" transform="translate(667.30 86.65) rotate(-90)">720</text>
<text class="ncs" x="414.20" y="95.90">N</text>
<text class="ncs" x="680.00" y="95.90">C</text>
<text class="wl" x="649.50" y="101.70" textLength="36.0" lengthAdjust="spacingAndGlyphs" opacity="1.00">weblogo.berkeley.edu</text>
<rect class="box" x="508.30" y="31.80" width="80.80" height="71.00"/>
<text class="b" transform="matrix(0.3868 0 0 0.7497 416.17 177.80)">T</text>
<text class="o" transform="matrix(0.4490 0 0 0.1804 436.38 160.76)">F</text>
<text class="k" transform="matrix(0.3376 0 0 0.2006 438.00 174.76)">G</text>
<text class="o" opacity="0.55" transform="matrix(0.3594 0 0 0.0196 438.77 176.31)">Y</text>
<text class="b" opacity="0.57" transform="matrix(0.3802 0 0 0.0211 438.28 177.78)">S</text>
<text class="k" transform="matrix(0.3395 0 0 0.6432 461.31 175.56)">A</text>
<text class="b" opacity="0.62" transform="matrix(0.3802 0 0 0.0317 461.06 177.77)">S</text>
<text class="k" transform="matrix(0.4439 0 0 0.1717 481.97 166.89)">L</text>
<text class="o" transform="matrix(0.4490 0 0 0.0630 481.94 171.22)">F</text>
<text class="k" transform="matrix(0.3258 0 0 0.0630 482.76 175.56)">M</text>
<text class="p" opacity="0.59" transform="matrix(0.3714 0 0 0.0261 482.46 177.35)">D</text>
<text class="p" transform="matrix(0.4060 0 0 0.1478 505.00 164.20)">E</text>
<text class="k" transform="matrix(0.3487 0 0 0.1434 507.48 174.06)">V</text>
<text class="k" transform="matrix(0.2056 0 0 0.0543 516.25 177.80)">I</text>
<text class="p" transform="matrix(0.3526 0 0 0.1608 528.14 164.20)">K</text>
<text class="k" transform="matrix(0.3258 0 0 0.1304 528.32 173.17)">M</text>
<text class="o" opacity="0.60" transform="matrix(0.4490 0 0 0.0282 527.50 175.11)">F</text>
<text class="k" opacity="0.61" transform="matrix(0.4439 0 0 0.0304 527.53 177.20)">L</text>
<text class="b" transform="matrix(0.3875 0 0 0.4129 550.69 170.18)">N</text>
<text class="k" transform="matrix(0.3258 0 0 0.0565 551.10 174.06)">M</text>
<text class="p" opacity="0.62" transform="matrix(0.3714 0 0 0.0326 550.80 176.31)">D</text>
<text class="b" opacity="0.57" transform="matrix(0.3802 0 0 0.0211 552.18 177.78)">S</text>
<text class="b" transform="matrix(0.3802 0 0 0.6292 597.74 174.34)">S</text>
<text class="p" opacity="0.63" transform="matrix(0.4060 0 0 0.0348 596.12 177.35)">E</text>
<text class="b" transform="matrix(0.3868 0 0 0.0456 621.19 167.63)">T</text>
<text class="k" opacity="0.63" transform="matrix(0.4439 0 0 0.0348 618.65 170.03)">L</text>
<text class="b" opacity="0.65" transform="matrix(0.3802 0 0 0.0359 620.52 172.53)">S</text>
<g clip-path="url(#q6)"><text class="b" transform="matrix(0.3331 0 0 0.0268 620.25 174.44)">Q</text></g>
<text class="b" opacity="0.59" transform="matrix(0.3875 0 0 0.0261 619.03 176.60)">N</text>
<text class="p" opacity="0.54" transform="matrix(0.3714 0 0 0.0174 619.14 177.80)">D</text>
<text class="k" transform="matrix(0.4025 0 0 0.6432 641.71 174.96)">P</text>
<text class="b" opacity="0.61" transform="matrix(0.3802 0 0 0.0296 643.30 177.02)">S</text>
<path class="ax" d="M416.10 113.96V178.20"/>
<text class="yts" x="412.60" y="180.10">0</text>
<text class="yts" x="412.60" y="165.15">1</text>
<text class="yts" x="412.60" y="150.20">2</text>
<text class="yts" x="412.60" y="135.25">3</text>
<text class="yts" x="412.60" y="120.30">4</text>
<path class="ax" d="M413.40 177.80H416.10M413.40 162.85H416.10M413.40 147.90H416.10M413.40 132.95H416.10M413.40 118.00H416.10"/>
<text class="bitss" transform="translate(406.30 145.36) rotate(-90)">bits</text>
<text class="xts" transform="translate(430.10 179.00) rotate(-90)">611</text>
<text class="xts" transform="translate(452.87 179.00) rotate(-90)">612</text>
<text class="xts" transform="translate(475.64 179.00) rotate(-90)">613</text>
<text class="xts" transform="translate(498.41 179.00) rotate(-90)">614</text>
<text class="xts" transform="translate(521.18 179.00) rotate(-90)">615</text>
<text class="xts" transform="translate(543.95 179.00) rotate(-90)">616</text>
<text class="xts" transform="translate(566.72 179.00) rotate(-90)">617</text>
<text class="xts" transform="translate(589.49 179.00) rotate(-90)">618</text>
<text class="xts" transform="translate(612.26 179.00) rotate(-90)">619</text>
<text class="xts" transform="translate(635.03 179.00) rotate(-90)">620</text>
<text class="xts" transform="translate(657.80 179.00) rotate(-90)">621</text>
<text class="ncs" x="412.50" y="189.00">N</text>
<text class="ncs" x="671.00" y="189.00">C</text>
<text class="wl" x="641.60" y="195.30" textLength="32.0" lengthAdjust="spacingAndGlyphs" opacity="1.00">weblogo.berkeley.edu</text>
<rect class="box" x="504.20" y="130.20" width="69.10" height="65.60"/>
<text class="b" transform="matrix(0.3688 0 0 0.7384 416.29 269.70)">T</text>
<text class="k" transform="matrix(0.3325 0 0 0.2689 438.19 251.77)">V</text>
<text class="k" transform="matrix(0.1960 0 0 0.2606 446.56 269.70)">I</text>
<text class="k" transform="matrix(0.3325 0 0 0.7446 459.91 269.70)">V</text>
<text class="b" transform="matrix(0.3688 0 0 0.6350 481.45 266.85)">T</text>
<text class="k" opacity="0.63" transform="matrix(0.4232 0 0 0.0331 479.03 269.13)">L</text>
<text class="o" transform="matrix(0.3427 0 0 0.2130 502.99 259.31)">Y</text>
<text class="k" transform="matrix(0.4232 0 0 0.0476 500.75 262.58)">L</text>
<text class="p" opacity="0.64" transform="matrix(0.3542 0 0 0.0352 501.21 265.00)">D</text>
<text class="k" transform="matrix(0.1960 0 0 0.0393 511.72 267.71)">I</text>
<text class="o" opacity="0.56" transform="matrix(0.4281 0 0 0.0207 500.72 269.13)">F</text>
<text class="k" transform="matrix(0.4232 0 0 0.4468 522.47 262.58)">L</text>
<text class="b" opacity="0.58" transform="matrix(0.3625 0 0 0.0241 524.26 264.27)">S</text>
<text class="k" opacity="0.57" transform="matrix(0.3237 0 0 0.0228 524.49 265.86)">A</text>
<g clip-path="url(#q7)"><text class="b" transform="matrix(0.3176 0 0 0.0170 524.00 267.04)">Q</text></g>
<text class="b" opacity="0.55" transform="matrix(0.3695 0 0 0.0186 522.83 268.56)">N</text>
<text class="k" transform="matrix(0.3106 0 0 0.2254 544.94 260.17)">M</text>
<text class="p" opacity="0.61" transform="matrix(0.3542 0 0 0.0310 544.65 262.30)">D</text>
<text class="b" opacity="0.58" transform="matrix(0.3625 0 0 0.0241 545.98 263.98)">S</text>
<text class="p" opacity="0.56" transform="matrix(0.3871 0 0 0.0207 544.43 265.43)">E</text>
<text class="b" opacity="0.58" transform="matrix(0.3695 0 0 0.0248 544.55 267.14)">N</text>
<g clip-path="url(#q8)"><text class="b" transform="matrix(0.3176 0 0 0.0170 545.72 268.32)">Q</text></g>
<text class="b" transform="matrix(0.3625 0 0 0.4663 567.70 262.41)">S</text>
<text class="k" transform="matrix(0.3237 0 0 0.0683 567.93 267.57)">A</text>
<text class="b" transform="matrix(0.3688 0 0 0.3578 590.05 261.16)">T</text>
<text class="k" opacity="0.61" transform="matrix(0.4232 0 0 0.0310 587.63 263.30)">L</text>
<text class="b" opacity="0.61" transform="matrix(0.3625 0 0 0.0301 589.42 265.40)">S</text>
<g clip-path="url(#q9)"><text class="b" transform="matrix(0.3176 0 0 0.0204 589.16 266.85)">Q</text></g>
<text class="b" opacity="0.56" transform="matrix(0.3695 0 0 0.0207 587.99 268.56)">N</text>
<text class="k" transform="matrix(0.3838 0 0 0.7384 609.61 269.70)">P</text>
<text class="p" transform="matrix(0.3542 0 0 0.5771 631.53 265.43)">D</text>
<text class="p" transform="matrix(0.3871 0 0 0.0621 631.31 269.70)">E</text>
<path class="ax" d="M416.10 208.94V270.10"/>
<text class="yts" x="412.60" y="272.00">0</text>
<text class="yts" x="412.60" y="257.77">1</text>
<text class="yts" x="412.60" y="243.54">2</text>
<text class="yts" x="412.60" y="229.31">3</text>
<text class="yts" x="412.60" y="215.08">4</text>
<path class="ax" d="M413.40 269.70H416.10M413.40 255.47H416.10M413.40 241.24H416.10M413.40 227.01H416.10M413.40 212.78H416.10"/>
<text class="bitss" transform="translate(406.30 238.82) rotate(-90)">bits</text>
<text class="xts" transform="translate(430.10 270.90) rotate(-90)">480</text>
<text class="xts" transform="translate(451.88 270.90) rotate(-90)">481</text>
<text class="xts" transform="translate(473.66 270.90) rotate(-90)">482</text>
<text class="xts" transform="translate(495.44 270.90) rotate(-90)">483</text>
<text class="xts" transform="translate(517.22 270.90) rotate(-90)">484</text>
<text class="xts" transform="translate(539.00 270.90) rotate(-90)">485</text>
<text class="xts" transform="translate(560.78 270.90) rotate(-90)">486</text>
<text class="xts" transform="translate(582.56 270.90) rotate(-90)">487</text>
<text class="xts" transform="translate(604.34 270.90) rotate(-90)">488</text>
<text class="xts" transform="translate(626.12 270.90) rotate(-90)">489</text>
<text class="xts" transform="translate(647.90 270.90) rotate(-90)">490</text>
<text class="ncs" x="412.50" y="281.00">N</text>
<text class="ncs" x="660.00" y="281.00">C</text>
<text class="wl" x="631.00" y="287.00" textLength="32.0" lengthAdjust="spacingAndGlyphs" opacity="1.00">weblogo.berkeley.edu</text>
<rect class="box" x="504.20" y="223.60" width="80.10" height="61.70"/>
<text class="b" transform="matrix(0.3787 0 0 0.5464 416.67 357.90)">T</text>
<text class="b" transform="matrix(0.3411 0 0 0.5348 438.00 357.38)">C</text>
<text class="k" transform="matrix(0.3413 0 0 0.5464 461.47 357.90)">V</text>
<text class="b" transform="matrix(0.3793 0 0 0.5464 481.46 357.90)">N</text>
<text class="k" transform="matrix(0.3413 0 0 0.5464 506.07 357.90)">V</text>
<text class="k" transform="matrix(0.3189 0 0 0.5464 526.47 357.90)">M</text>
<text class="o" transform="matrix(0.4396 0 0 0.5464 547.96 357.90)">F</text>
<text class="b" transform="matrix(0.3411 0 0 0.5271 571.80 356.84)">C</text>
<text class="p" transform="matrix(0.3636 0 0 0.3020 593.07 352.16)">D</text>
<text class="b" transform="matrix(0.3787 0 0 0.0835 595.07 357.90)">T</text>
<text class="k" transform="matrix(0.3324 0 0 0.1768 616.97 348.88)">A</text>
<text class="k" transform="matrix(0.3413 0 0 0.0517 617.57 352.43)">V</text>
<text class="k" transform="matrix(0.3452 0 0 0.0676 615.49 357.08)">K</text>
<text class="p" transform="matrix(0.3975 0 0 0.2384 637.44 349.29)">E</text>
<text class="p" transform="matrix(0.3793 0 0 0.1252 637.56 357.90)">H</text>
<path class="ax" d="M416.70 299.53V358.30"/>
<text class="yts" x="413.20" y="360.20">0</text>
<text class="yts" x="413.20" y="346.53">1</text>
<text class="yts" x="413.20" y="332.86">2</text>
<text class="yts" x="413.20" y="319.19">3</text>
<text class="yts" x="413.20" y="305.52">4</text>
<path class="ax" d="M414.00 357.90H416.70M414.00 344.23H416.70M414.00 330.56H416.70M414.00 316.89H416.70M414.00 303.22H416.70"/>
<text class="bitss" transform="translate(406.90 328.24) rotate(-90)">bits</text>
<text class="xts" transform="translate(430.90 359.10) rotate(-90)">444</text>
<text class="xts" transform="translate(453.30 359.10) rotate(-90)">445</text>
<text class="xts" transform="translate(475.70 359.10) rotate(-90)">446</text>
<text class="xts" transform="translate(498.10 359.10) rotate(-90)">447</text>
<text class="xts" transform="translate(520.50 359.10) rotate(-90)">448</text>
<text class="xts" transform="translate(542.90 359.10) rotate(-90)">449</text>
<text class="xts" transform="translate(565.30 359.10) rotate(-90)">450</text>
<text class="xts" transform="translate(587.70 359.10) rotate(-90)">451</text>
<text class="xts" transform="translate(610.10 359.10) rotate(-90)">452</text>
<text class="xts" transform="translate(632.50 359.10) rotate(-90)">453</text>
<text class="xts" transform="translate(654.90 359.10) rotate(-90)">454</text>
<text class="ncs" x="412.50" y="368.60">N</text>
<text class="ncs" x="667.50" y="368.60">C</text>
<text class="wl" x="637.70" y="374.70" textLength="32.0" lengthAdjust="spacingAndGlyphs" opacity="1.00">weblogo.berkeley.edu</text>
<rect class="box" x="512.00" y="309.30" width="64.80" height="60.40"/>
<text class="b" transform="matrix(0.2078 0 0 0.3335 416.90 437.11)">S</text>
<text class="k" transform="matrix(0.1856 0 0 0.0971 417.04 444.12)">A</text>
<text class="b" transform="matrix(0.1904 0 0 0.0860 416.72 450.12)">C</text>
<text class="k" transform="matrix(0.1856 0 0 0.8353 429.49 450.80)">A</text>
<text class="b" transform="matrix(0.2078 0 0 0.7781 441.80 450.04)">S</text>
<text class="o" transform="matrix(0.2454 0 0 0.4274 453.21 450.80)">F</text>
<text class="k" transform="matrix(0.2426 0 0 0.1792 465.68 438.47)">L</text>
<text class="o" transform="matrix(0.2454 0 0 0.0885 465.66 444.56)">F</text>
<text class="b" transform="matrix(0.2118 0 0 0.0907 465.88 450.80)">N</text>
<text class="b" transform="matrix(0.2118 0 0 0.3864 478.33 439.37)">N</text>
<text class="k" transform="matrix(0.2426 0 0 0.0583 478.13 443.38)">L</text>
<text class="b" transform="matrix(0.2078 0 0 0.0419 479.15 446.30)">S</text>
<g clip-path="url(#q10)"><text class="b" transform="matrix(0.1820 0 0 0.0390 479.00 449.07)">Q</text></g>
<g clip-path="url(#q11)"><text class="b" transform="matrix(0.1820 0 0 0.1789 491.45 436.86)">Q</text></g>
<text class="o" transform="matrix(0.1964 0 0 0.0475 491.86 442.63)">Y</text>
<text class="b" transform="matrix(0.2078 0 0 0.0524 491.60 446.29)">S</text>
<text class="p" transform="matrix(0.2030 0 0 0.0475 490.84 449.61)">D</text>
<text class="p" transform="matrix(0.2030 0 0 0.1446 515.74 438.47)">D</text>
<text class="k" transform="matrix(0.1781 0 0 0.0604 515.91 442.63)">M</text>
<text class="b" opacity="0.64" transform="matrix(0.2078 0 0 0.0357 516.50 445.12)">S</text>
<g clip-path="url(#q12)"><text class="b" transform="matrix(0.1820 0 0 0.0407 516.35 448.00)">Q</text></g>
<text class="k" transform="matrix(0.1845 0 0 0.3125 541.24 439.06)">G</text>
<text class="p" transform="matrix(0.2030 0 0 0.0755 540.64 444.56)">D</text>
<text class="b" opacity="0.64" transform="matrix(0.2078 0 0 0.0357 541.40 447.05)">S</text>
<text class="p" transform="matrix(0.2219 0 0 0.0410 540.52 449.91)">E</text>
<text class="p" transform="matrix(0.2030 0 0 0.0626 553.09 439.37)">D</text>
<text class="b" transform="matrix(0.2118 0 0 0.0475 553.03 442.63)">N</text>
<text class="k" transform="matrix(0.1856 0 0 0.0540 553.99 446.35)">A</text>
<text class="p" transform="matrix(0.2219 0 0 0.0475 552.97 449.61)">E</text>
<text class="p" transform="matrix(0.2219 0 0 0.2158 577.87 444.12)">E</text>
<text class="k" transform="matrix(0.2200 0 0 0.0971 577.88 450.80)">P</text>
<text class="k" transform="matrix(0.2426 0 0 0.3238 590.18 435.65)">L</text>
<text class="k" transform="matrix(0.1124 0 0 0.1230 596.46 444.12)">I</text>
<text class="k" transform="matrix(0.1781 0 0 0.0971 590.61 450.80)">M</text>
<text class="b" transform="matrix(0.2118 0 0 0.6001 602.83 444.12)">N</text>
<text class="b" transform="matrix(0.2078 0 0 0.0944 603.65 450.71)">S</text>
<text class="o" transform="matrix(0.2454 0 0 0.2698 615.06 436.54)">F</text>
<text class="p" transform="matrix(0.1961 0 0 0.0993 615.39 443.38)">R</text>
<text class="p" transform="matrix(0.1927 0 0 0.0971 615.41 450.06)">K</text>
<text class="k" transform="matrix(0.1124 0 0 0.3324 633.81 436.25)">I</text>
<text class="k" transform="matrix(0.1906 0 0 0.1684 629.02 447.83)">V</text>
<text class="b" opacity="0.63" transform="matrix(0.2078 0 0 0.0336 628.55 450.17)">S</text>
<text class="b" transform="matrix(0.2114 0 0 0.6885 641.36 446.35)">T</text>
<text class="b" transform="matrix(0.2078 0 0 0.0524 641.00 450.01)">S</text>
<text class="p" transform="matrix(0.2030 0 0 0.7252 652.69 447.53)">D</text>
<text class="p" opacity="0.63" transform="matrix(0.2219 0 0 0.0345 652.57 449.91)">E</text>
<path class="ax" d="M416.70 387.39V451.20"/>
<text class="yts" x="413.20" y="453.10">0</text>
<text class="yts" x="413.20" y="438.25">1</text>
<text class="yts" x="413.20" y="423.40">2</text>
<text class="yts" x="413.20" y="408.55">3</text>
<text class="yts" x="413.20" y="393.70">4</text>
<path class="ax" d="M414.00 450.80H416.70M414.00 435.95H416.70M414.00 421.10H416.70M414.00 406.25H416.70M414.00 391.40H416.70"/>
<text class="bitss" transform="translate(406.90 418.58) rotate(-90)">bits</text>
<text class="xts" transform="translate(426.10 452.00) rotate(-90)">491</text>
<text class="xts" transform="translate(438.56 452.00) rotate(-90)">492</text>
<text class="xts" transform="translate(451.02 452.00) rotate(-90)">493</text>
<text class="xts" transform="translate(463.48 452.00) rotate(-90)">494</text>
<text class="xts" transform="translate(475.94 452.00) rotate(-90)">495</text>
<text class="xts" transform="translate(488.40 452.00) rotate(-90)">496</text>
<text class="xts" transform="translate(500.86 452.00) rotate(-90)">497</text>
<text class="xts" transform="translate(513.32 452.00) rotate(-90)">498</text>
<text class="xts" transform="translate(525.78 452.00) rotate(-90)">499</text>
<text class="xts" transform="translate(538.24 452.00) rotate(-90)">500</text>
<text class="xts" transform="translate(550.70 452.00) rotate(-90)">501</text>
<text class="xts" transform="translate(563.16 452.00) rotate(-90)">502</text>
<text class="xts" transform="translate(575.62 452.00) rotate(-90)">503</text>
<text class="xts" transform="translate(588.08 452.00) rotate(-90)">504</text>
<text class="xts" transform="translate(600.54 452.00) rotate(-90)">505</text>
<text class="xts" transform="translate(613.00 452.00) rotate(-90)">506</text>
<text class="xts" transform="translate(625.46 452.00) rotate(-90)">507</text>
<text class="xts" transform="translate(637.92 452.00) rotate(-90)">508</text>
<text class="xts" transform="translate(650.38 452.00) rotate(-90)">509</text>
<text class="xts" transform="translate(662.84 452.00) rotate(-90)">510</text>
<text class="ncs" x="412.50" y="462.30">N</text>
<text class="ncs" x="671.00" y="462.30">C</text>
<text class="wl" x="641.60" y="468.70" textLength="32.0" lengthAdjust="spacingAndGlyphs" opacity="1.00">weblogo.berkeley.edu</text>
<rect class="box" x="480.20" y="395.50" width="58.90" height="73.30"/>
</svg>
</body></html>
